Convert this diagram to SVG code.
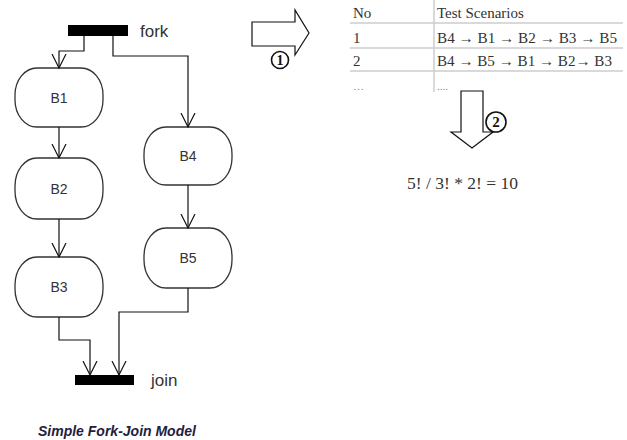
<svg xmlns="http://www.w3.org/2000/svg" width="627" height="440" viewBox="0 0 627 440">
<defs>
<marker id="v" markerWidth="16" markerHeight="16" refX="14" refY="8" orient="auto" markerUnits="userSpaceOnUse">
<path d="M0,1 L14,8 L0,15" fill="none" stroke="#111" stroke-width="1.2"/>
</marker>
<style>
.node rect{fill:#fff;stroke:#333;stroke-width:1.3}
.node text{font-family:"Liberation Sans",Arial,sans-serif;font-size:14px;fill:#333;text-anchor:middle}
.bar{fill:#000}
.lbl{font-family:"Liberation Sans",Arial,sans-serif;font-size:17px;fill:#333}
.conn path{fill:none;stroke:#111;stroke-width:1.2;marker-end:url(#v)}
.tbl{font-family:"Liberation Serif","Times New Roman",serif;font-size:15px;fill:#333}
.dots{font-family:"Liberation Serif","Times New Roman",serif;font-size:11px;fill:#888}
.formula{font-family:"Liberation Serif","Times New Roman",serif;font-size:17.5px;fill:#333}
.rule{stroke:#ccc;stroke-width:1.5}
.blk{fill:#fff;stroke:#111;stroke-width:1.2}
.num{font-family:"Liberation Serif","Times New Roman",serif;font-weight:bold;fill:#111;text-anchor:middle}
</style>
</defs>
<rect width="627" height="440" fill="#fff"/>

<g id="fork"><rect class="bar" x="68" y="25" width="60" height="11"/><text class="lbl" x="140" y="37">fork</text></g>
<g id="join"><rect class="bar" x="75" y="375" width="59" height="10"/><text class="lbl" x="151" y="386">join</text></g>

<g id="B1" class="node"><rect x="15" y="68" width="88" height="59" rx="22" ry="27"/><text x="59" y="103">B1</text></g>
<g id="B2" class="node"><rect x="15" y="158" width="88" height="61" rx="22" ry="28"/><text x="59" y="194">B2</text></g>
<g id="B3" class="node"><rect x="15" y="257" width="88" height="60" rx="22" ry="28"/><text x="59" y="292">B3</text></g>
<g id="B4" class="node"><rect x="144" y="127" width="88" height="58" rx="22" ry="27"/><text x="188" y="161">B4</text></g>
<g id="B5" class="node"><rect x="144" y="228" width="88" height="60" rx="22" ry="28"/><text x="188" y="263">B5</text></g>

<g id="connectors" class="conn">
<path d="M84,36 V51 H59 V68"/>
<path d="M113,36 V56 H188 V127"/>
<path d="M59,127 V158"/>
<path d="M59,219 V257"/>
<path d="M188,185 V228"/>
<path d="M59,317 V340 H90 V375"/>
<path d="M188,288 V312 H119 V375"/>
</g>

<g id="step1">
<path class="blk" d="M252,22 H295 V10 L309,33 L295,55 V46 H252 Z"/>
<circle cx="280" cy="60" r="8.5" fill="#fff" stroke="#111" stroke-width="1.6"/>
<text class="num" x="280" y="65" style="font-size:14px">1</text>
</g>

<g id="table">
<line class="rule" x1="350" y1="23" x2="623" y2="23"/>
<line class="rule" x1="350" y1="48" x2="623" y2="48"/>
<line class="rule" x1="350" y1="71" x2="623" y2="71"/>
<line class="rule" x1="434" y1="0" x2="434" y2="92"/>
<text class="tbl" x="353" y="18">No</text>
<text class="tbl" x="437" y="18">Test Scenarios</text>
<text class="tbl" x="353" y="43">1</text>
<text class="tbl" x="437" y="43" textLength="180" lengthAdjust="spacingAndGlyphs">B4 → B1 → B2 → B3 → B5</text>
<text class="tbl" x="353" y="66">2</text>
<text class="tbl" x="437" y="66" textLength="175" lengthAdjust="spacingAndGlyphs">B4 → B5 → B1 → B2→ B3</text>
<text class="dots" x="353" y="90">…</text>
<text class="dots" x="437" y="90">....</text>
</g>

<g id="step2">
<path class="blk" d="M461,91 H483 V132 H493 L472,148 L451,132 H461 Z"/>
<circle cx="496" cy="122" r="10" fill="#fff" stroke="#111" stroke-width="1.6"/>
<text class="num" x="496" y="127" style="font-size:15px">2</text>
</g>

<text id="formula" class="formula" x="407" y="189">5! / 3! * 2! = 10</text>

<text id="caption" x="38" y="436" font-family="'Liberation Sans',Arial,sans-serif" font-size="14" font-weight="bold" font-style="italic" fill="#1f2040">Simple Fork-Join Model</text>
</svg>
